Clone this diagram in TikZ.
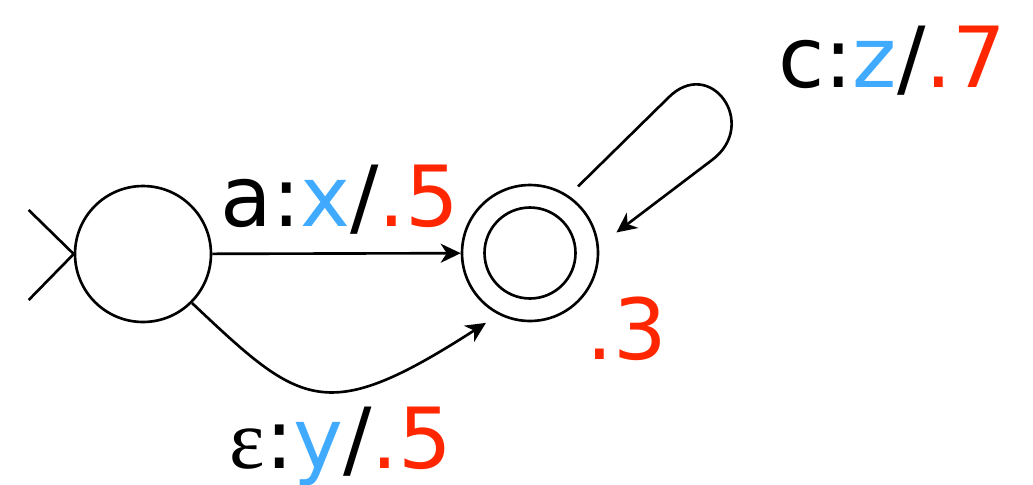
\documentclass[tikz,border=0pt]{standalone}
\usepackage{fontspec}
\setmainfont{DejaVu Sans}
\newfontfamily\epsfont{Liberation Serif}
\usetikzlibrary{arrows.meta,positioning,calc}
\definecolor{outblue}{RGB}{64,170,255}
\definecolor{wtred}{RGB}{255,38,0}
\tikzset{
  state/.style={circle, draw=black, line width=1.5pt, minimum size=2.72cm, inner sep=0pt},
  innerring/.style={circle, draw=black, line width=1.5pt, minimum size=1.82cm, inner sep=0pt},
  arrow/.style={-{Stealth[length=0.4cm,width=0.38cm,inset=0.12cm]}, line width=1.5pt},
  startline/.style={line width=1.5pt},
  arclabel/.style={anchor=base, inner sep=0pt, font=\fontsize{48}{58}\selectfont}
}
\newcommand{\outsym}[1]{\textcolor{outblue}{#1}}
\newcommand{\wt}[1]{\textcolor{wtred}{#1}}

\begin{document}
\begin{tikzpicture}[x=0.02cm, y=-0.02cm]
  \useasboundingbox (0,0) rectangle (1033,484);
  \node[state] (q0) at (143,254) {};
  \node[state] (q1) at (530,253) {};
  \node[innerring] (q1in) at (q1) {};
  % start marker
  \draw[startline] (q0.west) -- +(-45,-44) (q0.west) -- +(-45,46);
  % arcs
  \draw[arrow] (q0) -- (q1);
  \draw[arrow, shorten >=0.3cm] (q0.-45) .. controls +(109,103) and +(-174,112) .. (q1.-117);
  % self loop on the final state
  \draw[arrow, shorten <=0.26cm, shorten >=0.44cm] (q1.56) -- (668,98)
    .. controls (710,55) and (760,124) .. (712,160) -- (q1.6);
  % labels
  \node[arclabel] (lblA) at (340,226) {a:\outsym{x}/\wt{.5}};
  \node[arclabel] (lblE) at (341,468) {{\epsfont ε}:\outsym{y}/\wt{.5}};
  \node[arclabel] (lblC) at (892,87) {c:\outsym{z}/\wt{.7}};
  \node[arclabel] (fin) at (627,359) {\wt{.3}};
\end{tikzpicture}
\end{document}
